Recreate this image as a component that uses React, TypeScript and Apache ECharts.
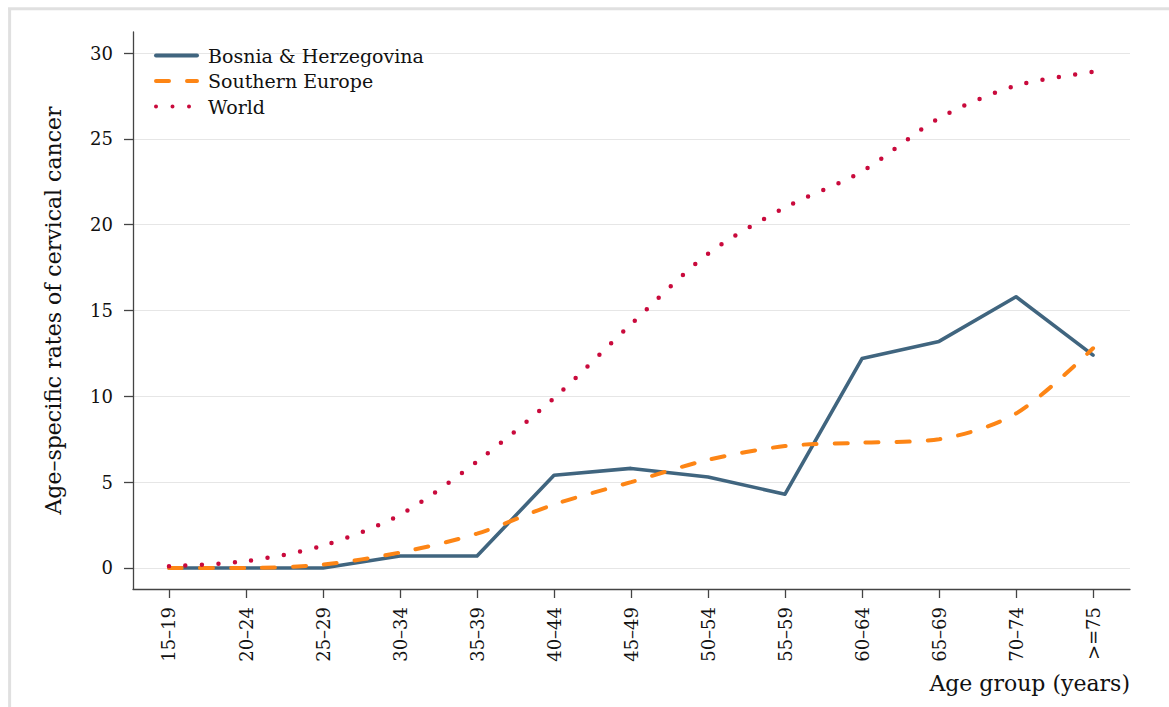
import React, { useEffect, useRef } from "react";
import * as echarts from "echarts";

const categories = ["15–19", "20–24", "25–29", "30–34", "35–39", "40–44", "45–49", "50–54", "55–59", "60–64", "65–69", "70–74", ">=75"];
const bosnia = [0, 0, 0, 0.7, 0.7, 5.4, 5.8, 5.3, 4.3, 12.2, 13.2, 15.8, 12.4];
const southernEurope = [0, 0, 0.2, 0.9, 2.0, 3.7, 5.0, 6.3, 7.1, 7.3, 7.5, 9.0, 12.8];
const world = [0.1, 0.4, 1.3, 3.1, 6.2, 9.9, 14.2, 18.3, 21.0, 23.1, 26.2, 28.1, 28.9];
const yTicks = [0, 5, 10, 15, 20, 25, 30];

const FONT = "DejaVu Serif";

export default function App() {
  const ref = useRef<HTMLDivElement>(null);
  useEffect(() => {
    if (!ref.current) return;
    const chart = echarts.init(ref.current, null, { renderer: "svg" });
    const xIdx = categories.map((_, i) => i);
    const toPairs = (arr: number[]) => arr.map((v, i) => [i, v]);
    const axisColor = "#444";
    chart.setOption({
      animation: false,
      backgroundColor: "#fff",
      textStyle: { fontFamily: FONT },
      grid: { left: 133, right: 39, top: 32, bottom: 118, containLabel: false },
      legend: {
        orient: "vertical",
        left: 149,
        top: 41,
        itemWidth: 41,
        itemHeight: 14,
        itemGap: 6.5,
        data: ["Bosnia & Herzegovina", "Southern Europe", "World"],
        itemStyle: { opacity: 0 },
        lineStyle: { width: 4 },
        textStyle: { fontFamily: FONT, fontSize: 19, color: "#111", padding: [0, 0, 0, 6] },
      },
      xAxis: {
        type: "value",
        min: -0.4675,
        max: 12.48,
        axisLine: { show: true, onZero: false, lineStyle: { color: axisColor, width: 1.3 } },
        axisTick: { show: true, length: 9, customValues: xIdx, lineStyle: { color: axisColor, width: 1.3 } },
        axisLabel: {
          customValues: xIdx,
          rotate: 90,
          margin: 18,
          fontSize: 18,
          fontFamily: FONT,
          color: "#111",
          formatter: (v: number) => categories[Math.round(v)] ?? "",
        },
        splitLine: { show: false },
      },
      yAxis: {
        type: "value",
        min: -1.225,
        max: 31.225,
        name: "Age–specific rates of cervical cancer",
        nameLocation: "middle",
        nameGap: 69,
        nameTextStyle: { fontFamily: FONT, fontSize: 22, color: "#111" },
        axisLine: { show: true, onZero: false, lineStyle: { color: axisColor, width: 1.3 } },
        axisTick: { show: true, length: 9, customValues: yTicks, lineStyle: { color: axisColor, width: 1.3 } },
        axisLabel: { customValues: yTicks, margin: 20, fontSize: 18, fontFamily: FONT, color: "#111" },
        splitLine: { show: false },
      },
      graphic: [
        { type: "line", shape: { x1: 8, y1: 8.7, x2: 1169, y2: 8.7 }, style: { stroke: "#e0e0e0", lineWidth: 3 }, silent: true },
        { type: "line", shape: { x1: 9.6, y1: 8, x2: 9.6, y2: 707 }, style: { stroke: "#e0e0e0", lineWidth: 3 }, silent: true },
        {
          type: "text",
          right: 39,
          top: 672,
          style: { text: "Age group (years)", fontFamily: FONT, fontSize: 22, fill: "#111", textAlign: "right" },
          silent: true,
        },
      ],
      series: [
        {
          name: "gridlines",
          type: "line",
          data: [],
          silent: true,
          z: 0,
          markLine: {
            silent: true,
            z: 0,
            symbol: ["none", "none"],
            label: { show: false },
            lineStyle: { color: "#e6e6e6", width: 1, type: "solid" },
            emphasis: { disabled: true },
            data: yTicks.map((v) => ({ yAxis: v })),
          },
        },
        {
          name: "Bosnia & Herzegovina",
          type: "line",
          data: toPairs(bosnia),
          symbol: "none",
          lineStyle: { color: "#40657f", width: 3.6, cap: "round", join: "round" },
          itemStyle: { color: "#40657f" },
        },
        {
          name: "Southern Europe",
          type: "line",
          data: toPairs(southernEurope),
          symbol: "none",
          smooth: 0.3,
          lineStyle: { color: "#fd8515", width: 4, type: [13, 18], cap: "round" },
          itemStyle: { color: "#fd8515" },
        },
        {
          name: "World",
          type: "line",
          data: toPairs(world),
          symbol: "none",
          smooth: 0.3,
          lineStyle: { color: "#c90a3c", width: 4.5, type: [0, 16.5], cap: "round" },
          itemStyle: { color: "#c90a3c" },
        },
      ],
    });
    return () => chart.dispose();
  }, []);
  return (
    <div
      ref={ref}
      style={{ position: "fixed", left: 0, top: 0, width: 1169, height: 707, background: "#fff" }}
    />
  );
}
